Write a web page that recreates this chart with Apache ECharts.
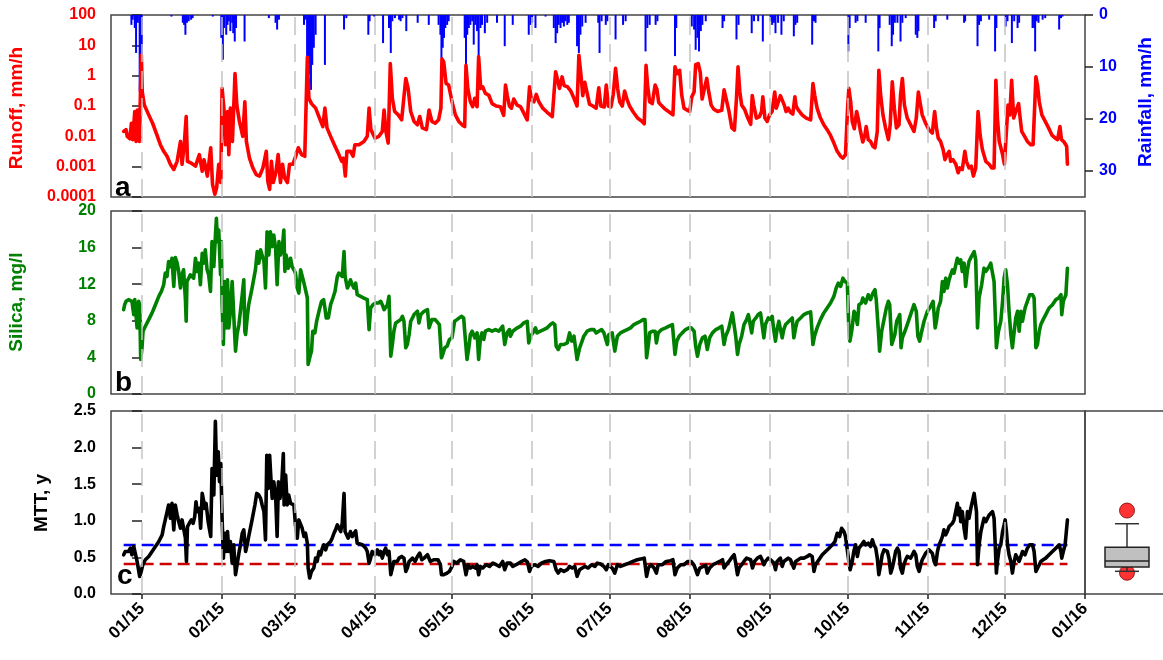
<!DOCTYPE html>
<html>
<head>
<meta charset="utf-8">
<script src="https://cdn.jsdelivr.net/npm/echarts@6/dist/echarts.min.js"></script>
<style>
  html, body { margin: 0; padding: 0; background: #fff; }
  #chart { width: 1163px; height: 660px; }
</style>
</head>
<body>
<div id="chart"></div>
<script>
// All series are [day, value], day counted from 1 Jan 2015.

// Runoff, mm/h
const runoff = [
  [-7.1,0.0145],[-6.2,0.0166],[-5.7,0.010],[-4.7,0.0083],[-4.1,0.027],[-3.6,0.0078],[-2.8,0.066],[-2.3,0.0068],[-1.8,0.074],[-1.0,0.0068],
  [-0.6,0.29],[-0.26,4.7],[0.1,0.29],[0.9,0.107],[2.6,0.051],[4.1,0.027],[5.8,0.011],[7.1,0.0053],[8.4,0.0032],[9.7,0.0022],
  [11.0,0.0012],[12.3,0.00081],[13.6,0.0015],[14.9,0.0068],[15.5,0.0012],[16.3,0.0047],[17.1,0.045],[17.6,0.0015],[19.1,0.0013],[20.7,0.00104],
  [22.2,0.0025],[23.3,0.00071],[24.0,0.0017],[25.3,0.00049],[26.6,0.0042],[27.3,0.00026],[28.2,0.000123],[28.9,0.0002],[29.7,0.0012],[30.5,0.0003],
  [31.0,0.38],[31.7,0.085],[32.3,0.0053],[33.1,0.066],[33.6,0.0025],[34.2,0.085],[35.0,0.0068],[36.0,1.17],[36.7,0.107],[37.7,0.031],
  [39.0,0.010],[39.8,0.138],[40.4,0.0068],[41.6,0.0019],[42.9,0.00091],[44.2,0.00055],[45.5,0.00049],[46.8,0.00091],[48.1,0.0032],[48.7,0.00033],
  [49.4,0.000178],[50.1,0.0015],[50.8,0.0003],[51.8,0.00063],[52.7,0.0025],[53.6,0.0003],[54.4,0.0012],[55.2,0.00043],[56.3,0.0003],[57.1,0.0012],
  [58.4,0.0012],[59.7,0.0025],[60.5,0.0042],[61.8,0.0025],[63.0,0.0022],[63.6,0.0025],[64.0,4.0],[64.6,0.18],[65.6,0.12],[67.2,0.085],
  [68.7,0.04],[70.0,0.021],[70.8,0.085],[71.6,0.019],[73.0,0.010],[74.7,0.0047],[76.2,0.0025],[77.3,0.0015],[78.0,0.0019],[78.7,0.00049],
  [79.3,0.0032],[80.7,0.0032],[81.7,0.0022],[82.4,0.0053],[84.0,0.0053],[85.9,0.0068],[87.2,0.010],[87.9,0.085],[88.6,0.0166],[90.2,0.0087],
  [91.7,0.010],[93.0,0.0145],[93.7,0.074],[94.4,0.0145],[95.3,0.006],[96.1,2.5],[96.9,0.18],[97.8,0.066],[99.2,0.051],[100.5,0.035],
  [102.1,0.81],[103.0,0.38],[104.0,0.066],[105.3,0.031],[106.6,0.024],[107.5,0.045],[108.5,0.019],[110.1,0.0166],[111.1,0.074],
  [112.2,0.031],[113.5,0.027],[114.8,0.035],[115.7,0.085],[116.1,3.6],[116.8,2.8],[117.7,0.55],[118.7,0.49],[120.0,0.138],[121.3,0.051],
  [122.6,0.031],[124.1,0.023],[124.9,0.021],[125.4,2.2],[126.1,0.38],[127.1,0.138],[128.0,0.095],[128.8,0.18],[129.7,0.095],[130.3,4.2],
  [131.1,0.38],[131.9,0.43],[132.9,0.26],[134.2,0.23],[135.5,0.12],[137.1,0.10],[138.7,0.095],[140.0,0.049],[140.7,0.49],[141.4,0.22],
  [142.2,0.10],[143.0,0.085],[143.9,0.17],[145.2,0.107],[146.5,0.095],[147.8,0.058],[149.1,0.035],[150.0,0.43],[150.7,0.158],[151.7,0.138],
  [152.6,0.24],[153.6,0.138],[155.1,0.085],[156.8,0.062],[158.8,0.045],[160.1,1.35],[160.8,0.77],[161.6,0.38],[162.6,0.91],[163.4,0.47],
  [164.7,0.43],[166.0,0.31],[167.3,0.17],[168.4,0.10],[169.1,4.7],[169.9,1.05],[170.6,0.22],[171.4,0.60],[172.5,0.22],[173.2,0.115],
  [174.5,0.10],[175.8,0.085],[176.8,0.40],[177.6,0.10],[178.9,0.093],[179.7,0.49],[180.5,0.10],[181.5,0.093],[182.4,0.24],[183.3,1.74],
  [184.1,0.38],[184.9,0.138],[185.9,0.10],[186.8,0.31],[187.7,0.17],[188.7,0.10],[190.0,0.066],[191.8,0.04],[193.6,0.031],[194.4,0.026],
  [195.1,2.2],[195.7,0.47],[196.5,0.138],[197.5,0.12],[198.6,0.49],[199.3,0.36],[200.0,0.13],[200.9,0.107],[202.4,0.079],[204.2,0.062],
  [205.5,0.051],[206.3,1.95],[207.2,1.17],[208.1,1.5],[208.9,0.23],[209.8,0.085],[211.1,0.072],[212.0,0.066],[212.8,0.20],[213.7,0.29],
  [214.3,2.3],[215.3,2.5],[216.1,1.26],[216.8,0.17],[217.7,0.38],[218.6,0.81],[219.4,0.28],[220.3,0.107],[221.3,0.079],[222.8,0.066],
  [224.4,0.072],[225.3,0.34],[226.1,0.17],[227.2,0.066],[228.3,0.019],[229.3,0.016],[230.1,0.18],[230.7,1.95],[231.4,0.29],[232.1,0.107],
  [233.2,0.079],[234.5,0.04],[235.6,0.025],[236.2,0.22],[236.8,0.107],[237.8,0.04],
  [239.0,0.045],[239.8,0.066],[240.3,0.20],[241.1,0.04],[242.0,0.031],[242.9,0.051],[243.9,0.066],[244.9,0.29],[245.5,0.085],[246.2,0.085],
  [247.1,0.22],[247.8,0.23],[248.6,0.107],[249.3,0.066],[250.1,0.085],[251.0,0.062],[251.9,0.054],[252.7,0.20],[253.2,0.10],[254.0,0.074],
  [255.5,0.051],[257.1,0.04],[258.8,0.035],[259.7,0.55],[260.4,0.22],[261.3,0.085],[262.6,0.04],[263.9,0.024],[265.2,0.0166],[266.5,0.0107],
  [267.8,0.006],[269.1,0.0032],[270.4,0.0022],[271.3,0.0019],[272.3,0.0025],[273.1,0.085],[273.6,0.38],[274.3,0.138],[274.9,0.031],[275.7,0.0178],
  [276.6,0.066],[277.2,0.04],[278.1,0.0145],[279.0,0.0065],[279.8,0.011],[280.3,0.021],[281.1,0.0078],[282.0,0.0068],[282.9,0.0047],[283.7,0.0042],
  [284.6,0.0145],[285.2,1.5],[285.9,0.23],[286.8,0.051],[287.8,0.019],[288.9,0.0078],[289.6,0.024],[290.4,0.63],[291.2,0.085],[292.0,0.019],
  [293.0,0.024],[293.6,0.23],[294.3,0.81],[295.1,0.107],[296.2,0.04],[297.5,0.024],[298.8,0.0145],[299.7,0.04],[300.5,0.29],[301.1,0.138],
  [302.0,0.051],[303.3,0.027],[304.6,0.0166],[305.9,0.0129],[306.8,0.066],[307.5,0.019],[308.2,0.0087],[309.1,0.0068],[310.1,0.0036],[310.8,0.0017],
  [311.6,0.0025],[312.4,0.0032],[313.0,0.0015],[313.9,0.0017],[315.0,0.0012],[315.9,0.00063],[316.6,0.00091],[317.5,0.00081],[318.5,0.0032],[319.1,0.0015],
  [320.1,0.00091],[321.0,0.00104],[321.8,0.00049],[322.7,0.00091],[323.6,0.066],[324.4,0.011],[325.3,0.0036],[326.6,0.0015],[327.9,0.0012],[328.9,0.00091],
  [329.8,0.00091],[330.5,0.71],[331.1,0.04],[331.8,0.0068],[333.1,0.0025],[333.8,0.0012],[334.3,0.00104],[335.2,0.107],[335.9,0.051],[336.6,0.71],
  [337.4,0.04],[338.2,0.066],[339.3,0.12],[339.9,0.04],[340.5,0.0145],[341.4,0.0107],[342.7,0.0068],[344.0,0.0053],[344.9,0.0053],[346.0,0.91],
  [346.6,0.49],[347.3,0.138],[348.3,0.051],[349.6,0.031],[350.9,0.019],[352.2,0.011],[353.5,0.0087],[354.4,0.0078],[355.3,0.021],[355.9,0.0078],
  [356.9,0.0065],[357.9,0.0047],[358.2,0.0012]
];

// Rainfall, mm/h
const rainfall = [
  [-4.1,1.9],[-3.6,0.9],[-2.8,2.5],[-2.3,7.3],[-1.6,1.5],[-0.9,14.7],[-0.5,11.5],[-0.1,14.0],[11.4,0.3],[15.8,1.5],
  [16.3,1.9],[16.8,3.8],[17.4,1.5],[18.1,1.2],[19.0,0.9],[19.6,0.6],[27.4,0.3],[30.7,4.4],[31.3,8.6],[31.8,2.5],
  [32.6,3.8],[33.1,1.9],[33.6,1.2],[34.2,3.1],[34.9,1.5],[35.3,3.5],[35.9,5.1],[36.4,2.5],[39.7,5.1],[49.1,0.6],
  [51.7,1.5],[52.3,2.8],[53.0,0.9],[62.7,1.9],[63.3,0.9],[63.9,14.7],[64.3,9.6],[64.9,11.5],[65.4,14.4],[65.9,9.6],
  [66.5,6.3],[67.2,3.8],[70.8,9.6],[78.2,2.8],[79.1,0.6],[87.6,3.8],[88.1,1.2],[89.9,0.3],[93.3,5.4],[95.6,2.5],
  [96.3,7.3],[96.9,1.2],[97.9,0.6],[99.5,0.9],[100.1,1.2],[100.8,0.6],[102.3,3.1],[106.7,1.5],[111.0,1.9],[114.8,1.9],
  [115.5,3.8],[115.9,8.3],[116.4,6.3],[116.9,4.4],[117.4,2.5],[118.1,1.9],[118.7,1.2],[124.9,4.4],[125.4,10.5],[125.9,3.8],
  [126.5,2.5],[127.1,1.9],[127.8,1.2],[128.4,5.7],[129.0,1.9],[129.7,3.1],[130.3,13.7],[131.0,2.5],[131.6,1.9],[132.7,3.5],
  [133.6,1.5],[137.4,1.5],[140.4,6.0],[143.5,1.9],[149.7,3.8],[150.4,1.9],[151.0,1.5],[152.3,2.5],[156.2,0.3],[159.4,2.5],
  [160.1,5.4],[160.7,3.5],[161.3,1.9],[162.0,2.5],[162.6,1.5],[163.3,2.2],[163.9,1.2],[164.6,1.9],[165.2,1.5],[168.4,6.0],
  [169.1,7.3],[169.7,3.8],[170.4,2.2],[171.7,1.5],[176.6,1.5],[177.1,7.3],[177.9,1.2],[179.5,1.9],[180.1,1.2],[183.3,4.7],
  [186.2,1.9],[187.2,1.2],[194.9,7.0],[195.6,2.5],[196.5,1.9],[198.8,1.9],[199.5,1.2],[206.3,7.9],[206.8,2.5],[212.8,2.2],
  [213.7,2.8],[214.3,6.7],[215.0,4.4],[215.6,7.0],[216.3,3.1],[216.9,1.9],[218.2,1.2],[224.7,2.5],[225.3,1.2],[230.1,4.7],
  [230.9,1.9],[236.0,3.5],[236.9,1.2],[238.5,1.2],[240.3,5.1],[243.3,1.2],[243.9,1.9],[244.6,1.5],[245.2,3.5],[246.2,1.5],
  [247.5,3.8],[248.4,1.2],[252.3,4.1],[252.9,1.9],[253.6,1.5],[259.4,5.7],[260.1,1.2],[260.7,1.5],[273.4,7.0],[273.9,2.5],
  [276.2,1.5],[276.9,1.2],[280.1,1.5],[285.0,7.0],[285.5,2.5],[289.4,1.9],[290.2,6.0],[290.7,3.8],[291.4,1.5],[292.4,1.5],
  [293.6,5.1],[294.3,1.5],[295.6,0.6],[299.5,3.8],[300.1,4.4],[300.5,3.1],[306.6,2.5],[307.2,1.2],[311.7,0.9],[318.2,1.5],
  [318.6,1.2],[323.4,6.0],[324.0,1.9],[324.7,1.2],[327.9,0.9],[330.2,7.0],[330.7,2.5],[334.3,2.2],[335.0,1.2],[336.7,5.4],
  [337.6,1.2],[338.9,2.5],[339.5,1.5],[344.7,2.5],[345.3,2.5],[345.7,7.0],[346.3,1.2],[347.0,1.5],[348.6,0.9],[349.6,0.6],
  [355.0,2.8],[355.7,0.6],[356.3,0.3]
];

// Silica, mg/l
const silica = [
  [-7.1,9.22],[-6.7,9.76],[-6.2,10.13],[-5.6,9.94],[-5.2,10.31],[-4.5,10.13],[-3.9,10.13],[-3.2,8.68],[-2.8,10.31],[-2.3,10.49],
  [-1.9,7.23],[-1.3,10.13],[-0.9,9.76],[-0.5,3.78],[0.0,5.05],[0.4,6.86],[1.3,7.41],[2.6,8.13],[3.9,8.86],[5.2,9.76],
  [6.5,10.67],[7.5,11.21],[8.4,11.94],[9.0,13.21],[9.7,12.85],[10.3,14.48],[11.0,13.93],[11.6,14.84],[12.3,11.76],[12.9,14.91],
  [13.6,14.30],[14.2,13.39],[14.9,11.58],[15.5,13.03],[16.1,13.57],[16.8,10.31],[17.1,7.95],[17.4,12.30],[18.1,12.66],[18.7,13.03],
  [19.4,13.21],[20.0,12.66],[20.7,14.84],[21.3,13.39],[22.0,14.30],[22.6,11.94],[23.3,15.38],[23.9,14.30],[24.5,15.75],[25.2,13.57],
  [25.8,13.03],[26.5,11.21],[27.1,16.65],[27.8,13.93],[28.4,17.20],[28.8,19.19],[29.2,16.65],[29.7,17.92],[30.4,13.03],[30.7,16.65],
  [31.0,10.13],[31.5,5.41],[32.0,12.30],[32.6,7.23],[33.1,12.48],[33.6,7.23],[34.1,8.68],[34.9,12.30],[35.5,8.68],[36.2,4.69],
  [36.8,6.50],[37.5,7.59],[38.1,9.04],[38.8,10.85],[39.4,12.48],[39.8,6.86],[40.1,6.50],[40.7,8.31],[41.3,9.76],[42.6,11.58],
  [43.9,13.57],[44.6,15.56],[45.2,14.30],[45.9,15.75],[46.5,15.56],[47.2,14.48],[47.8,11.58],[48.4,17.74],[49.1,15.20],[49.7,17.74],
  [50.4,16.11],[51.0,17.38],[51.7,15.93],[52.3,11.94],[53.0,16.65],[53.6,15.20],[54.3,15.93],[54.9,17.92],[55.3,13.39],[55.8,15.20],
  [56.6,13.75],[57.5,14.84],[58.1,13.93],[58.8,13.57],[59.4,13.21],[60.1,11.58],[60.7,11.03],[61.4,13.57],[62.0,13.39],[62.7,12.12],
  [63.3,12.30],[64.0,10.49],[64.3,3.24],[64.9,3.96],[65.6,4.69],[66.1,6.86],[66.9,6.68],[67.6,7.95],[68.5,9.04],[69.5,10.13],
  [70.3,10.31],[70.8,9.40],[71.3,8.31],[72.1,8.31],[73.0,9.76],[73.9,10.49],[74.7,11.21],[75.6,12.85],[76.2,13.21],[76.9,13.03],
  [77.5,12.85],[78.2,15.56],[78.6,12.85],[79.1,12.66],[79.5,11.58],[80.1,11.94],[80.7,12.48],[81.4,11.94],[82.0,11.58],[82.7,12.12],
  [83.3,10.85],[84.6,10.67],[85.9,10.49],[87.2,10.31],[87.9,7.04],[88.5,9.40],[89.4,9.76],[90.4,9.94],[91.5,9.94],[92.4,10.13],
  [93.0,9.76],[93.7,9.22],[94.3,9.40],[95.0,9.76],[95.6,10.67],[96.3,4.14],[96.9,5.41],[97.5,6.86],[98.2,7.77],[99.2,7.95],
  [100.1,8.13],[100.8,8.49],[101.4,7.95],[102.1,5.05],[102.7,5.41],[103.4,6.50],[104.0,7.95],[104.7,8.31],[105.3,8.68],[105.9,8.86],
  [106.6,9.04],[107.2,7.77],[107.9,8.68],[109.2,9.04],[110.5,9.22],[111.1,7.23],
  [111.6,7.04],[112.2,8.13],[113.5,8.13],[115.1,7.59],[115.9,3.96],[116.4,4.33],[117.2,5.05],[118.1,5.23],[119.0,5.96],[120.0,6.14],
  [121.0,7.95],[121.9,8.13],[122.6,8.31],[123.6,8.49],[124.5,8.31],[124.9,6.86],[125.8,3.78],[126.5,5.05],[127.1,6.50],[127.8,6.86],
  [128.8,6.14],[129.7,6.68],[130.3,3.78],[131.0,6.14],[131.6,6.68],[132.3,5.96],[132.9,6.86],[134.2,7.04],[135.5,6.86],[136.8,7.04],
  [138.1,6.86],[139.6,7.41],[140.4,5.41],[141.3,6.68],[142.2,7.04],[142.6,6.32],[143.5,6.86],[144.8,7.15],[146.5,7.41],[147.8,7.77],
  [149.1,7.95],[149.7,5.59],[150.4,6.32],[151.3,6.68],[152.3,7.23],[152.9,6.68],[154.2,6.86],[155.5,7.04],[156.8,7.23],[158.1,7.59],
  [159.0,7.77],[159.8,7.59],[160.3,5.23],[161.1,4.87],[162.0,5.41],[163.3,5.41],[164.6,5.59],[165.5,6.68],[166.3,5.78],[167.2,6.32],
  [168.4,3.78],[169.4,5.05],[170.1,5.59],[171.0,6.32],[172.3,6.86],[173.6,7.04],[174.9,7.04],[175.8,6.68],[176.8,6.86],[177.9,7.04],
  [178.8,6.68],[179.4,6.68],[180.1,5.41],[180.7,6.50],[182.0,6.68],[183.0,4.69],[184.0,6.32],[185.2,6.68],[186.5,6.86],[187.8,7.04],
  [189.1,7.23],[190.4,7.59],[191.7,7.77],[193.0,7.95],[193.9,8.13],[194.7,8.13],[195.3,3.96],[196.0,5.41],[196.5,6.68],[197.5,6.86],
  [198.6,6.86],[199.1,5.59],[199.8,6.68],[201.1,7.04],[202.7,7.23],[204.0,7.41],[205.3,7.59],[206.3,4.33],[207.0,5.78],[207.9,6.32],
  [209.1,6.68],[210.4,7.04],[211.7,7.23],[212.6,7.23],[213.7,6.86],[214.3,5.23],[215.0,4.14],[215.9,5.41],[216.9,6.14],[217.9,6.32],
  [218.8,4.87],[219.7,6.14],[220.8,6.68],[222.1,7.04],[223.4,7.23],[224.4,7.41],[225.3,5.41],[225.9,6.32],[227.0,7.04],[227.9,8.13],
  [228.5,8.86],[229.2,9.04],[229.8,6.32],[230.5,4.33],[231.1,5.41],[232.1,6.32],[233.0,7.59],[234.0,8.13],[234.7,8.68],[235.2,8.86],
  [236.0,6.68],[236.6,7.95],[237.6,8.31],
  [238.5,8.68],[239.4,8.86],[240.0,8.68],[240.7,6.14],[241.3,7.59],[242.4,8.31],[243.3,8.13],[243.9,8.49],[244.6,6.86],[245.2,5.78],
  [245.8,7.04],[246.5,7.95],[247.1,8.13],[247.8,6.14],[248.4,7.04],[249.1,7.59],[249.7,7.77],[250.4,7.95],[251.7,8.31],[252.3,6.14],
  [253.0,7.23],[253.6,7.95],[254.9,8.31],[256.2,8.68],[257.5,8.86],[258.8,8.97],[259.7,5.41],[260.3,6.32],[261.3,7.23],[262.6,8.13],
  [263.9,8.86],[265.2,9.40],[266.5,9.94],[267.8,10.67],[268.7,11.58],[269.5,12.12],[270.4,11.76],[271.3,12.66],[272.1,12.30],[273.0,12.12],
  [273.6,7.04],[274.0,5.78],[274.7,6.86],[275.6,9.04],[276.2,8.68],[276.9,7.59],[277.5,9.76],[278.5,9.94],[279.0,10.49],[280.1,9.94],
  [281.1,10.85],[282.0,10.31],[282.9,11.03],[283.7,11.40],[284.2,10.31],[285.0,7.04],[285.5,4.69],[286.3,6.86],[287.2,8.13],[288.1,9.40],
  [288.9,10.13],[289.4,9.76],[290.2,5.41],[290.7,5.23],[291.4,6.50],[292.1,7.95],[292.7,8.31],[293.3,8.68],[293.8,5.05],[294.3,6.14],
  [295.3,6.86],[296.2,7.59],[297.5,8.68],[298.8,9.76],[299.7,9.04],[300.3,6.32],[301.0,5.78],[301.8,6.86],[302.7,7.95],[304.0,9.04],
  [305.3,9.58],[306.2,10.13],[307.0,7.23],[307.5,7.95],[308.2,9.40],[309.1,10.13],[309.8,12.30],[310.4,11.21],[311.1,12.66],[311.7,11.58],
  [312.4,12.48],[313.0,13.03],[313.7,13.57],[314.3,13.21],[315.0,14.11],[315.6,14.84],[316.3,14.30],[316.9,14.66],[317.5,13.39],[318.2,14.30],
  [318.8,11.76],[319.5,13.57],[320.1,14.48],[320.7,14.84],[321.4,14.66],[322.1,15.56],[322.7,14.66],[323.4,7.23],[324.0,10.49],[325.0,11.94],
  [325.9,13.75],[326.6,13.39],[327.9,13.93],[328.5,14.30],[329.2,14.11],[329.8,12.30],[330.5,6.86],[330.7,5.05],[331.5,6.86],[332.4,7.95],
  [333.1,10.13],[333.7,12.66],[334.3,13.57],[335.0,11.94],[335.6,9.04],[336.3,6.50],[336.9,5.05],[337.6,6.86],[338.2,8.31],[338.9,9.04],
  [339.5,6.86],[340.2,9.04],[340.8,7.95],[341.8,9.40],[342.7,10.13],[343.6,10.85],[344.7,10.85],[345.3,10.49],[346.0,5.05],[346.6,5.41],
  [347.3,6.86],[347.9,7.59],[348.8,8.13],[349.8,8.68],[351.1,9.40],[352.4,9.76],[353.7,10.31],[354.8,10.49],[355.7,10.85],[356.0,8.68],
  [356.6,10.13],[357.6,10.85],[358.2,13.75]
];

// Mean transit time, years
const mtt = [
  [-7.1,0.536],[-6.5,0.581],[-5.8,0.604],[-5.2,0.581],[-4.5,0.626],[-3.9,0.536],[-3.2,0.649],[-2.6,0.626],[-1.9,0.445],[-1.3,0.422],
  [-0.9,0.241],[-0.3,0.309],[0.3,0.400],[1.3,0.468],[2.6,0.513],[3.9,0.581],[5.2,0.649],[6.5,0.717],[7.1,0.740],[7.8,0.808],
  [8.4,0.921],[9.0,1.012],[9.7,0.989],[10.3,1.216],[11.0,1.034],[11.6,1.238],[12.3,0.876],[12.9,1.216],[13.6,1.080],[14.2,0.989],
  [14.9,0.898],[15.5,1.012],[16.1,0.989],[16.8,0.762],[17.2,0.445],[17.6,0.921],[18.3,0.966],[19.1,1.012],[19.8,0.966],[20.4,1.057],
  [20.9,1.261],[21.4,1.125],[22.2,1.170],[22.7,0.898],[23.3,1.374],[23.9,1.261],[24.3,1.170],[24.8,1.238],[25.6,0.989],[26.1,1.012],
  [26.6,0.785],[27.1,1.714],[27.8,1.352],[28.4,2.358],[28.9,1.624],[29.5,1.941],[30.0,1.533],[30.5,1.782],[31.0,1.034],[31.5,0.490],
  [32.0,0.830],[32.6,0.581],[33.1,0.853],[33.6,0.581],[34.2,0.717],[34.9,0.422],[35.5,0.672],[36.2,0.264],[37.0,0.445],[37.5,0.558],
  [38.1,0.672],[38.8,0.830],[39.4,0.876],[40.1,0.581],[40.7,0.672],[41.3,0.785],[42.6,1.012],[43.7,1.216],[44.4,1.374],[45.2,1.352],
  [45.9,1.306],[46.5,1.216],[47.2,1.125],[47.8,0.740],[48.3,1.896],[48.8,1.442],[49.4,1.896],[49.9,1.578],[50.4,1.306],[51.0,1.533],
  [51.7,1.352],[52.3,0.785],[52.8,1.533],[53.4,1.306],[54.0,1.442],[54.7,1.918],[55.0,1.216],[55.6,1.624],[56.2,1.216],[56.8,1.352],
  [57.5,1.238],[58.1,1.216],[58.8,1.216],[59.4,0.944],[60.1,0.762],[60.7,1.012],[61.4,1.012],[62.0,0.898],[62.7,0.785],[63.3,0.830],
  [64.0,0.694],[64.3,0.355],[64.9,0.218],[65.6,0.309],[66.5,0.355],[67.2,0.490],[67.8,0.445],[68.5,0.581],[69.1,0.536],[69.8,0.626],
  [70.4,0.672],[71.1,0.604],[71.7,0.672],[72.4,0.672],[73.0,0.717],[73.6,0.762],[74.3,0.830],[74.9,0.876],[75.6,0.944],[76.2,0.966],
  [76.9,0.853],[77.5,0.966],[78.2,1.374],[78.6,0.853],[79.1,0.830],[79.8,0.762],[80.7,0.853],[81.4,0.785],[82.0,0.762],[82.7,0.862],
  [83.3,0.694],[84.0,0.672],[85.3,0.672],[86.6,0.626],[87.2,0.581],[87.9,0.422],[88.5,0.490],[89.1,0.581],[90.2,0.536],[91.1,0.604],
  [91.7,0.536],[92.4,0.581],[93.0,0.490],[93.7,0.581],[94.3,0.626],[95.0,0.536],[95.6,0.581],[96.3,0.264],[96.9,0.355],[97.5,0.445],
  [98.2,0.468],[98.8,0.445],[99.5,0.490],[100.5,0.513],[101.4,0.490],[102.1,0.309],[102.7,0.355],[103.4,0.445],[104.0,0.468],[104.7,0.490],
  [105.7,0.445],[106.6,0.513],[107.5,0.558],[108.3,0.468],[109.2,0.490],[110.5,0.536],
  [111.6,0.445],[112.9,0.468],[114.6,0.468],[115.5,0.400],[115.9,0.264],[116.8,0.264],[118.1,0.286],[119.0,0.309],[120.0,0.377],[120.6,0.445],
  [121.9,0.422],[123.2,0.468],[124.5,0.445],[125.4,0.264],[126.2,0.400],[127.1,0.355],[128.0,0.377],[129.0,0.355],[129.7,0.400],[130.3,0.264],
  [131.0,0.377],[131.9,0.355],[133.2,0.400],[134.5,0.377],[135.8,0.422],[137.1,0.400],[138.3,0.377],[139.6,0.445],[140.4,0.332],[141.3,0.422],
  [142.6,0.422],[143.5,0.377],[144.8,0.400],[146.5,0.436],[148.2,0.468],[149.2,0.436],[150.0,0.309],[150.7,0.377],[152.0,0.400],[153.3,0.377],
  [154.6,0.422],[156.2,0.445],[157.7,0.454],[159.4,0.445],[160.3,0.332],[161.1,0.286],[162.0,0.332],[163.3,0.309],[164.6,0.332],[165.5,0.377],
  [166.5,0.355],[167.5,0.377],[168.4,0.241],[169.4,0.332],[170.4,0.355],[171.4,0.377],[172.7,0.355],[174.0,0.400],[175.3,0.377],[176.2,0.422],
  [177.5,0.409],[178.8,0.377],[179.7,0.332],[180.5,0.400],[182.0,0.355],[183.0,0.286],[184.0,0.400],[185.2,0.377],[186.8,0.400],[188.5,0.422],
  [190.0,0.445],[191.7,0.468],[193.4,0.481],[194.4,0.490],[195.3,0.241],[196.0,0.355],[197.0,0.400],[198.2,0.355],[199.1,0.286],[199.8,0.400],
  [201.4,0.400],[202.9,0.445],[204.6,0.454],[205.5,0.468],[206.3,0.264],[207.2,0.355],[208.5,0.400],[209.8,0.400],[211.3,0.445],[212.6,0.445],
  [213.7,0.391],[214.3,0.332],[215.0,0.264],[215.9,0.355],[217.2,0.377],[218.2,0.391],[218.8,0.286],[219.7,0.355],[221.0,0.400],[222.3,0.422],
  [223.6,0.445],[224.7,0.468],[225.3,0.355],[226.2,0.400],[227.2,0.445],[228.3,0.500],[229.2,0.536],[229.8,0.422],[230.5,0.264],[231.1,0.355],
  [232.1,0.400],[233.0,0.445],[234.0,0.490],[234.7,0.513],[235.6,0.468],[236.3,0.355],[237.1,0.445],[238.2,0.490],
  [238.5,0.490],[239.4,0.513],[240.0,0.468],[240.7,0.400],[241.3,0.445],[242.4,0.490],[243.3,0.468],[243.9,0.490],[244.6,0.422],[245.2,0.332],
  [245.8,0.445],[246.5,0.468],[247.1,0.490],[247.8,0.377],[248.4,0.445],[249.3,0.468],[250.1,0.490],[251.0,0.468],[251.7,0.490],[252.3,0.355],
  [253.0,0.445],[254.0,0.468],[254.9,0.490],[256.2,0.490],[257.5,0.513],[258.4,0.536],[259.4,0.513],[260.1,0.309],[260.7,0.400],[262.0,0.468],
  [263.3,0.536],[264.6,0.581],[265.9,0.626],[267.2,0.672],[268.2,0.717],[269.1,0.830],[270.0,0.785],[270.8,0.898],[271.7,0.853],[272.3,0.785],
  [273.0,0.785],[273.6,0.445],[274.1,0.332],[274.9,0.445],[275.5,0.581],[276.2,0.672],[276.9,0.513],[277.5,0.626],[278.5,0.672],[279.4,0.717],
  [280.1,0.672],[281.1,0.694],[282.0,0.649],[282.7,0.740],[283.3,0.672],[284.0,0.626],[284.6,0.490],[285.2,0.264],[285.9,0.400],[286.5,0.536],
  [287.2,0.604],[287.8,0.626],[288.5,0.581],[289.1,0.490],[289.8,0.286],[290.4,0.355],[291.1,0.468],[291.7,0.581],[292.4,0.626],[293.0,0.581],
  [293.6,0.355],[294.3,0.286],[294.9,0.400],[295.6,0.468],[296.2,0.513],[296.9,0.536],[297.5,0.490],[298.2,0.536],[298.8,0.581],[299.5,0.536],
  [300.1,0.377],[300.8,0.309],[301.4,0.400],[302.0,0.468],[302.7,0.513],[303.3,0.558],[304.0,0.581],[304.6,0.604],[305.3,0.626],[305.9,0.558],
  [306.6,0.445],[307.2,0.400],[307.9,0.581],[308.5,0.672],[309.1,0.717],[309.8,0.785],[310.4,0.876],[311.1,0.808],[311.7,0.853],[312.4,0.921],
  [313.0,0.898],[313.7,0.966],[314.3,1.012],[315.0,0.989],[315.6,1.238],[316.0,1.080],[316.5,1.170],[316.9,0.989],[317.5,1.125],[318.2,0.898],
  [318.8,0.762],[319.5,1.125],[320.1,1.034],[320.8,1.170],[321.4,1.193],[322.1,1.374],[322.5,1.261],[323.0,1.125],[323.4,0.400],[324.0,0.672],
  [324.7,0.853],[325.3,0.944],[325.9,1.034],[326.6,0.989],[327.2,1.012],[327.9,1.080],[328.5,1.102],[329.2,1.125],[329.8,1.034],[330.2,0.717],
  [330.7,0.286],[331.1,0.445],[331.8,0.626],[332.4,0.672],[333.1,0.853],[333.7,0.944],[334.1,1.012],[334.6,0.853],[335.0,0.672],[335.6,0.536],
  [336.3,0.445],[336.9,0.286],[337.6,0.445],[338.2,0.536],[338.9,0.490],[339.5,0.445],[340.2,0.513],[340.8,0.581],[341.8,0.536],[342.7,0.626],
  [343.6,0.672],[344.7,0.672],[345.3,0.581],[346.0,0.309],[346.6,0.286],[347.3,0.400],[347.9,0.445],[348.8,0.468],[349.8,0.490],[351.1,0.536],
  [352.4,0.581],[353.7,0.626],[354.4,0.649],[355.0,0.672],[355.7,0.581],[356.0,0.490],[356.6,0.581],[357.3,0.672],[358.2,1.012]
];

// Summary of MTT: lower whisker, Q1, median, Q3, upper whisker; plus the extreme points
const mttBox = [0.31, 0.37, 0.45, 0.64, 0.96];
const mttExtremes = [1.14, 0.29];
// Reference levels drawn across panel c
const mttLevelBlue = 0.67;
const mttLevelRed = 0.41;

// Axis ticks
const rainTicks = [0, 10, 20, 30];

const FONT = '"Liberation Sans", Arial, sans-serif';
const DAY0 = Date.UTC(2015, 0, 1);
const DAY_MS = 86400000;
const monthStarts = [];
for (let m = 0; m <= 12; m++) monthStarts.push((Date.UTC(2015, m, 1) - DAY0) / DAY_MS);
const xMin = -12, xMax = monthStarts[12];

function fmtMonth(d) {
  const dt = new Date(DAY0 + Math.round(d) * DAY_MS);
  return String(dt.getUTCMonth() + 1).padStart(2, '0') + '/' + String(dt.getUTCFullYear() % 100).padStart(2, '0');
}
function fmtLog(v) {
  const e = Math.round(Math.log10(v));
  return e >= 0 ? String(Math.pow(10, e)) : Math.pow(10, e).toFixed(-e);
}

const tickLine = { color: '#222', width: 1.5 };
const labelBase = { fontSize: 16, fontWeight: 'bold', fontFamily: FONT };
const LINE_W = 3.6;

function xAxisFor(gi, showLabels) {
  return {
    type: 'value', gridIndex: gi, min: xMin, max: xMax,
    axisLine: { show: false },
    splitLine: { show: false },
    axisTick: { show: showLabels, customValues: monthStarts, length: 5, lineStyle: tickLine },
    axisLabel: Object.assign({ show: showLabels, customValues: monthStarts, formatter: fmtMonth,
      rotate: 45, margin: 12, color: '#000' }, labelBase, { fontSize: 17 })
  };
}

function monthGridLines(xi, yi) {
  return {
    type: 'line', xAxisIndex: xi, yAxisIndex: yi, data: [], silent: true, z: 1,
    markLine: {
      silent: true, symbol: ['none', 'none'], label: { show: false },
      lineStyle: { color: '#c4c4c4', width: 1.5, type: [18, 9] },
      data: monthStarts.slice(0, 12).map(d => ({ xAxis: d }))
    }
  };
}

const gridStyle = { show: true, borderColor: '#444', borderWidth: 1.5, backgroundColor: 'transparent', containLabel: false, outerBoundsMode: 'none' };

const option = {
  animation: false,
  backgroundColor: '#fff',
  grid: [
    Object.assign({ left: 111, top: 15, width: 974, height: 182 }, gridStyle),
    Object.assign({ left: 111, top: 211, width: 974, height: 183 }, gridStyle),
    Object.assign({ left: 111, top: 411, width: 974, height: 183 }, gridStyle),
    Object.assign({ left: 1085, top: 411, width: 84, height: 183 }, gridStyle)
  ],
  xAxis: [
    xAxisFor(0, false),
    xAxisFor(1, false),
    xAxisFor(2, true),
    { type: 'category', gridIndex: 3, data: ['MTT'], show: false }
  ],
  yAxis: [
    { type: 'log', gridIndex: 0, logBase: 10, min: 0.0001, max: 100, splitNumber: 6,
      axisLine: { show: false }, splitLine: { show: false }, minorTick: { show: false },
      axisTick: { show: true, length: 10, lineStyle: tickLine },
      axisLabel: Object.assign({ color: '#ff0000', margin: 15, formatter: fmtLog }, labelBase) },
    { type: 'value', gridIndex: 0, position: 'right', inverse: true, min: 0, max: 35,
      axisLine: { show: false }, splitLine: { show: false },
      axisTick: { show: true, length: 8, customValues: rainTicks, lineStyle: tickLine },
      axisLabel: Object.assign({ color: '#0000ff', margin: 14, customValues: rainTicks,
        formatter: v => (rainTicks.indexOf(v) >= 0 ? String(v) : '') }, labelBase) },
    { type: 'value', gridIndex: 1, min: 0, max: 20, interval: 4,
      axisLine: { show: false }, splitLine: { show: false },
      axisTick: { show: true, length: 10, lineStyle: tickLine },
      axisLabel: Object.assign({ color: '#008000', margin: 15 }, labelBase) },
    { type: 'value', gridIndex: 2, min: 0, max: 2.5, interval: 0.5,
      axisLine: { show: false }, splitLine: { show: false },
      axisTick: { show: true, length: 10, lineStyle: tickLine },
      axisLabel: Object.assign({ color: '#000', margin: 15, formatter: v => v.toFixed(1) }, labelBase) },
    { type: 'value', gridIndex: 3, min: 0, max: 2.5, show: false }
  ],
  series: [
    monthGridLines(0, 0),
    monthGridLines(1, 2),
    monthGridLines(2, 3),
    { name: 'Rainfall', type: 'bar', xAxisIndex: 0, yAxisIndex: 1, data: rainfall,
      barWidth: 2, itemStyle: { color: '#0000ff' }, z: 2, silent: true },
    { name: 'Runoff', type: 'line', xAxisIndex: 0, yAxisIndex: 0, data: runoff,
      symbol: 'none', lineStyle: { color: '#ff0000', width: LINE_W, join: 'round', cap: 'round' }, z: 3, silent: true },
    { name: 'Silica', type: 'line', xAxisIndex: 1, yAxisIndex: 2, data: silica,
      symbol: 'none', lineStyle: { color: '#008000', width: LINE_W, join: 'round', cap: 'round' }, z: 3, silent: true },
    { name: 'Level blue', type: 'line', xAxisIndex: 2, yAxisIndex: 3,
      data: [[mtt[0][0], mttLevelBlue], [mtt[mtt.length - 1][0], mttLevelBlue]],
      symbol: 'none', lineStyle: { color: '#0000ff', width: 2.5, type: [12, 6] }, z: 2, silent: true },
    { name: 'Level red', type: 'line', xAxisIndex: 2, yAxisIndex: 3,
      data: [[mtt[0][0], mttLevelRed], [mtt[mtt.length - 1][0], mttLevelRed]],
      symbol: 'none', lineStyle: { color: '#cc0000', width: 2.5, type: [12, 6] }, z: 2, silent: true },
    { name: 'MTT', type: 'line', xAxisIndex: 2, yAxisIndex: 3, data: mtt,
      symbol: 'none', lineStyle: { color: '#000', width: LINE_W, join: 'round', cap: 'round' }, z: 3, silent: true },
    { name: 'MTT extremes', type: 'scatter', xAxisIndex: 3, yAxisIndex: 4,
      data: mttExtremes.map(v => [0, v]), symbolSize: 15,
      itemStyle: { color: '#ff0000', borderColor: '#700', borderWidth: 1 }, z: 3, silent: true },
    { name: 'MTT box', type: 'custom', xAxisIndex: 3, yAxisIndex: 4, z: 4, silent: true,
      data: [[0].concat(mttBox)],
      renderItem: function (params, api) {
        const x = api.coord([0, 0])[0];
        const yLo = api.coord([0, api.value(1)])[1];
        const yQ1 = api.coord([0, api.value(2)])[1];
        const yMed = api.coord([0, api.value(3)])[1];
        const yQ3 = api.coord([0, api.value(4)])[1];
        const yHi = api.coord([0, api.value(5)])[1];
        const half = 22, cap = 12;
        const st = { stroke: '#333', lineWidth: 1.5 };
        return { type: 'group', children: [
          { type: 'line', shape: { x1: x, y1: yHi, x2: x, y2: yQ3 }, style: st },
          { type: 'line', shape: { x1: x, y1: yQ1, x2: x, y2: yLo }, style: st },
          { type: 'line', shape: { x1: x - cap, y1: yHi, x2: x + cap, y2: yHi }, style: st },
          { type: 'line', shape: { x1: x - cap, y1: yLo, x2: x + cap, y2: yLo }, style: st },
          { type: 'rect', shape: { x: x - half, y: yQ3, width: 2 * half, height: yQ1 - yQ3 },
            style: { fill: '#c0c0c0', stroke: '#222', lineWidth: 1.5 } },
          { type: 'line', shape: { x1: x - half, y1: yMed, x2: x + half, y2: yMed }, style: { stroke: '#222', lineWidth: 1.5 } }
        ] };
      } }
  ],
  graphic: [
    { type: 'text', x: 17, y: 108, rotation: Math.PI / 2, silent: true,
      style: { text: 'Runoff, mm/h', fill: '#ff0000', font: 'bold 19px ' + FONT, align: 'center', verticalAlign: 'middle' } },
    { type: 'text', x: 1146, y: 102, rotation: Math.PI / 2, silent: true,
      style: { text: 'Rainfall, mm/h', fill: '#0000ff', font: 'bold 19px ' + FONT, align: 'center', verticalAlign: 'middle' } },
    { type: 'text', x: 17, y: 302, rotation: Math.PI / 2, silent: true,
      style: { text: 'Silica, mg/l', fill: '#008000', font: 'bold 19px ' + FONT, align: 'center', verticalAlign: 'middle' } },
    { type: 'text', x: 42, y: 503, rotation: Math.PI / 2, silent: true,
      style: { text: 'MTT, y', fill: '#000', font: 'bold 19px ' + FONT, align: 'center', verticalAlign: 'middle' } },
    { type: 'text', x: 115, y: 188, silent: true,
      style: { text: 'a', fill: '#000', font: 'bold 28px ' + FONT, align: 'left', verticalAlign: 'middle' } },
    { type: 'text', x: 115, y: 383, silent: true,
      style: { text: 'b', fill: '#000', font: 'bold 28px ' + FONT, align: 'left', verticalAlign: 'middle' } },
    { type: 'text', x: 117, y: 576, silent: true,
      style: { text: 'c', fill: '#000', font: 'bold 28px ' + FONT, align: 'left', verticalAlign: 'middle' } }
  ]
};

const chart = echarts.init(document.getElementById('chart'), null, { renderer: 'canvas' });
chart.setOption(option);
</script>
</body>
</html>
